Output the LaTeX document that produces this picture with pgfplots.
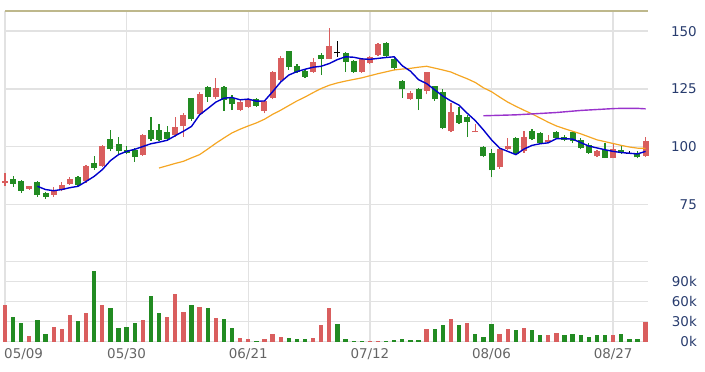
\documentclass[border=0pt]{standalone}
\usepackage{pgfplots}
\pgfplotsset{compat=1.18}
\usepackage{pgfplotstable}
\usepackage{fontspec}
\setmainfont{DejaVu Sans}
\definecolor{candred}{RGB}{217,94,94}
\definecolor{candgreen}{RGB}{34,139,34}
\definecolor{mablue}{RGB}{0,0,204}
\definecolor{maorange}{RGB}{245,166,35}
\definecolor{mapurple}{RGB}{153,51,204}
\definecolor{gridcol}{RGB}{226,226,226}
\definecolor{topcol}{RGB}{190,184,140}
\definecolor{ylab}{RGB}{40,60,110}
\definecolor{xlab}{RGB}{100,100,100}

\pgfplotstableread{
i bl bh wl wh
0 84.5 85.3 83.2 88.8
3 81.8 82.9 81.5 83.2
6 79.3 81.5 78.4 82.8
7 81.2 83.3 80.7 84.6
8 84.1 86.2 83.6 86.8
10 85.0 91.8 84.5 92.2
12 91.7 100.2 91.3 100.6
17 96.6 105.2 96.2 105.6
21 104.9 108.5 104.2 112.8
22 108.9 113.8 104.4 114.5
24 114.1 123.0 113.5 123.5
26 121.3 125.2 120.5 129.6
29 115.9 119.5 115.4 120.3
30 117.4 120.3 116.8 120.9
32 115.6 119.8 114.5 120.3
33 121.0 132.2 120.5 132.8
34 128.9 138.2 128.4 139.3
38 132.5 136.6 132.0 138.2
40 137.9 143.5 137.9 151.2
44 132.5 137.8 132.0 138.5
45 136.1 138.7 135.6 139.2
46 139.7 144.3 139.2 144.7
50 120.7 123.1 120.3 124.0
52 124.3 132.5 122.7 132.5
55 106.6 115.0 106.2 118.8
58 106.2 107.0 106.2 109.9
61 91.2 99.1 90.5 99.3
62 99.2 100.5 98.5 103.7
64 98.0 104.3 97.5 106.6
67 101.9 102.8 101.9 105.2
73 95.8 98.0 95.5 98.5
75 95.1 99.0 95.1 101.0
79 95.8 102.7 95.5 104.4
}\redtab

\pgfplotstableread{
i bl bh wl wh
1 83.9 86.2 82.8 87.5
2 81.0 85.3 80.2 85.8
4 79.3 84.6 78.4 85.3
5 78.4 80.2 77.6 80.6
9 83.3 86.8 82.9 87.5
11 90.8 93.0 90.1 96.1
13 98.9 103.3 98.0 107.3
14 98.0 101.4 97.0 104.3
15 97.5 98.7 96.8 100.5
16 95.7 98.5 93.5 99.4
18 103.2 107.3 102.7 113.0
19 103.0 107.3 102.4 110.0
20 103.2 106.2 102.7 109.1
23 111.8 120.9 111.2 120.9
25 121.7 125.8 119.5 126.3
27 120.4 125.8 115.5 126.3
28 118.3 121.0 115.8 122.4
31 117.7 120.7 117.2 121.2
35 134.6 141.4 133.2 141.4
36 132.5 134.9 132.0 135.7
37 130.3 132.9 129.8 133.8
39 137.9 139.5 131.0 140.5
42 136.8 140.6 132.5 141.1
43 132.5 137.1 132.0 137.6
47 139.4 145.0 139.0 145.5
48 133.9 137.8 133.4 138.2
49 124.9 128.4 121.0 128.9
51 120.5 125.0 115.8 125.3
53 120.5 126.3 120.0 126.3
54 108.1 123.8 107.5 124.8
56 110.2 113.8 109.8 117.4
57 110.9 112.8 104.2 113.8
59 95.8 99.9 95.4 100.4
60 89.8 97.5 86.9 99.0
63 97.0 103.7 96.5 104.2
65 103.3 106.8 102.8 107.8
66 101.6 105.9 101.2 106.3
68 103.7 106.2 103.2 106.8
69 103.0 104.2 102.3 105.2
70 102.3 106.2 101.8 106.8
71 99.4 103.0 98.9 103.6
72 97.5 100.9 97.0 101.6
74 95.1 98.7 95.1 101.6
76 97.5 98.7 97.0 100.9
78 95.4 97.5 95.0 98.2
}\greentab

\pgfplotstableread{
i bl bh wl wh
41 140.4 140.8 138.9 145.8
77 97.1 97.5 96.8 98.0
}\blacktab

\pgfplotstableread{
i v
4 82.9
5 81.5
6 81.0
7 81.5
8 82.3
9 82.9
10 85.0
11 87.2
12 90.1
13 94.0
14 96.6
15 98.0
16 98.9
17 100.1
18 101.3
19 102.0
20 102.8
21 104.8
22 106.7
23 108.8
24 113.8
25 116.5
26 119.3
27 121.0
28 121.3
29 120.3
30 120.6
31 119.7
32 119.8
33 123.8
34 128.0
35 131.0
36 132.5
37 133.5
38 134.4
39 134.8
40 136.0
41 137.7
42 138.9
43 138.7
44 138.0
45 137.8
46 138.2
47 138.6
48 138.9
49 135.0
50 132.7
51 129.0
52 127.3
53 124.6
54 121.9
55 119.8
56 118.0
57 114.5
58 111.3
59 107.3
60 103.0
61 99.4
62 98.0
63 96.6
64 99.0
65 100.6
66 101.3
67 101.7
68 103.5
69 103.5
70 103.3
71 101.8
72 100.3
73 99.5
74 98.7
75 98.0
76 97.5
77 97.2
78 96.9
79 98.0
}\mafive

\pgfplotstableread{
i v
19 90.8
20 91.8
21 92.8
22 93.7
23 95.2
24 96.6
25 99.0
26 101.5
27 103.8
28 106.0
29 107.6
30 109.0
31 110.3
32 111.9
33 114.0
34 115.8
35 117.8
36 119.8
37 121.5
38 123.4
39 125.2
40 126.6
41 127.6
42 128.4
43 129.1
44 129.8
45 130.7
46 131.6
47 132.4
48 133.2
49 133.6
50 133.9
51 134.4
52 134.8
53 134.0
54 133.2
55 132.3
56 130.8
57 129.4
58 127.8
59 125.5
60 123.8
61 121.5
62 119.3
63 117.5
64 115.8
65 114.2
66 112.4
67 110.6
68 109.0
69 107.8
70 106.7
71 105.6
72 104.3
73 103.0
74 102.2
75 101.4
76 100.6
77 99.9
78 99.4
79 99.3
}\matwenty

\pgfplotstableread{
i v
59 113.4
60 113.5
61 113.6
62 113.7
63 113.8
64 114.0
65 114.2
66 114.4
67 114.6
68 114.8
69 115.1
70 115.4
71 115.7
72 115.9
73 116.1
74 116.3
75 116.5
76 116.6
77 116.6
78 116.6
79 116.4
}\masixty

\pgfplotstableread{
i v
0 55
3 9
6 22.5
7 19
8 39.5
10 43.5
12 55
17 32.5
20 37.5
21 71.5
22 45
24 52.5
26 35.5
29 5
30 3.5
32 3.5
33 11
34 7.5
38 5.5
39 24.5
40 51
45 0.5
46 1.5
52 18.5
55 34
57 28.5
61 11.5
62 18.5
64 20.5
67 9.5
68 13
75 9.5
79 29
}\volred

\pgfplotstableread{
i v
1 37.5
2 28.5
4 32.5
5 11.5
9 30.5
11 105.5
13 51
14 21
15 22.5
16 28.5
18 68.5
19 43.5
23 55
25 51
27 33.5
28 20.5
31 1
35 5
36 3.5
37 3.5
41 26.5
42 3.5
43 1.5
44 0.5
47 1
48 2
49 3.5
50 2
51 2
53 18.5
54 24.5
56 24.5
58 11.5
59 7.5
60 26.5
63 17
65 17
66 9.5
69 10.5
70 11.5
71 9.5
72 7.5
73 9.5
74 9.5
76 11.5
77 3.5
78 3.5
}\volgreen

\begin{document}
\begin{tikzpicture}
\path[use as bounding box] (0,0) rectangle (705bp,372bp);
\pgfplotsset{
  candlebody/.style={draw=none, mark=none, forget plot,
    mark options={draw=none, fill=none}, mark size=0pt,
    error bars/.cd, y dir=plus, y explicit, error mark=none,
    error bar style={line width=6bp, draw=#1}},
  candlewick/.style={draw=none, mark=none, forget plot,
    mark options={draw=none, fill=none}, mark size=0pt,
    error bars/.cd, y dir=plus, y explicit, error mark=none,
    error bar style={line width=1.2bp, draw=#1}},
}
\begin{axis}[
  at={(5bp,110.3bp)}, anchor=south west,
  scale only axis, width=643bp, height=250.7bp,
  xmin=0, xmax=79.3, ymin=50.3, ymax=158.7,
  clip=false,
  axis line style={draw=none}, tick style={draw=none},
  xtick={0,15,30,45,60,75}, xticklabels={},
  ytick={75,100,125,150}, yticklabels={75,100,125,150},
  yticklabel pos=right,
  yticklabel style={anchor=east, inner sep=0pt, xshift=49bp, font=\fontsize{13.5}{14}\selectfont, text=ylab},
  grid=major, grid style={gridcol, line width=1.3bp},
]
\draw[topcol, line width=1.3bp] (rel axis cs:0,1) -- (rel axis cs:1,1);
\addplot[candlewick=candred] table[x=i, y=wl, y error expr=\thisrow{wh}-\thisrow{wl}] {\redtab};
\addplot[candlewick=candgreen] table[x=i, y=wl, y error expr=\thisrow{wh}-\thisrow{wl}] {\greentab};
\addplot[candlewick=black] table[x=i, y=wl, y error expr=\thisrow{wh}-\thisrow{wl}] {\blacktab};
\addplot[candlebody=candred] table[x=i, y=bl, y error expr=\thisrow{bh}-\thisrow{bl}] {\redtab};
\addplot[candlebody=candgreen] table[x=i, y=bl, y error expr=\thisrow{bh}-\thisrow{bl}] {\greentab};
\addplot[candlebody=black] table[x=i, y=bl, y error expr=\thisrow{bh}-\thisrow{bl}] {\blacktab};
\addplot[maorange, line width=1.2bp, mark=none] table[x=i, y=v] {\matwenty};
\addplot[mapurple, line width=1.4bp, mark=none] table[x=i, y=v] {\masixty};
\addplot[mablue, line width=1.4bp, mark=none] table[x=i, y=v] {\mafive};
\end{axis}
\begin{axis}[
  at={(5bp,30.3bp)}, anchor=south west,
  scale only axis, width=643bp, height=80bp,
  xmin=0, xmax=79.3, ymin=0, ymax=120,
  clip=false,
  axis line style={draw=none}, tick style={draw=none},
  xtick={15,30,45,60,75}, xticklabels={05/30,06/21,07/12,08/06,08/27},
  extra x ticks={0}, extra x tick labels={05/09},
  extra x tick style={grid=major, xticklabel style={anchor=north west, xshift=-1bp}},
  xticklabel style={anchor=north, inner sep=0pt, yshift=-6.5bp, font=\fontsize{13.5}{14}\selectfont, text=xlab},
  ytick={0,30,60,90,120}, yticklabels={0k,30k,60k,90k,{}},
  yticklabel pos=right,
  yticklabel style={anchor=east, inner sep=0pt, xshift=49bp, font=\fontsize{13.5}{14}\selectfont, text=ylab},
  grid=major, grid style={gridcol, line width=1.3bp},
]
\addplot[ycomb, draw=candred, line width=4.3bp, mark=none] table[x=i, y=v] {\volred};
\addplot[ycomb, draw=candgreen, line width=4.3bp, mark=none] table[x=i, y=v] {\volgreen};
\end{axis}
\end{tikzpicture}
\end{document}
